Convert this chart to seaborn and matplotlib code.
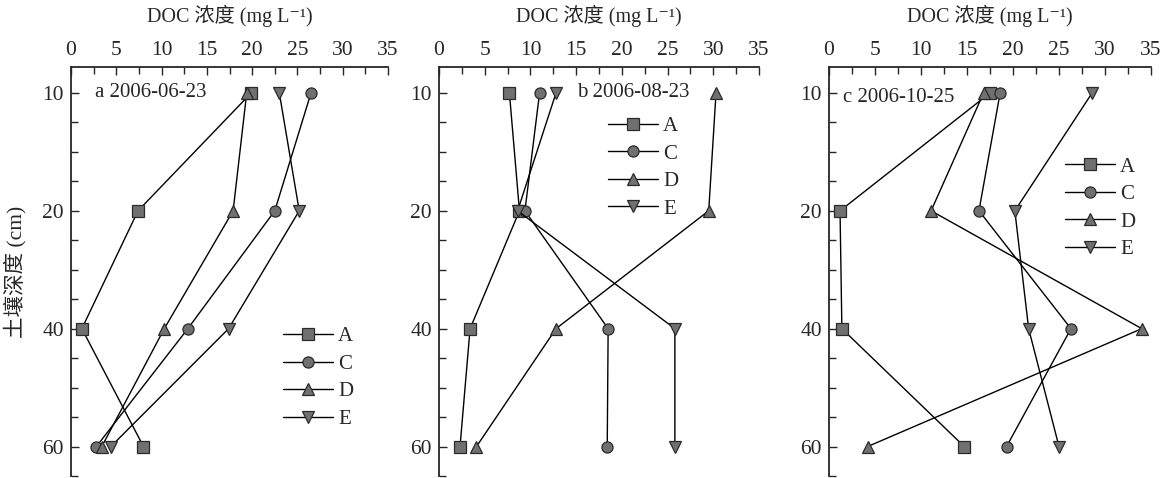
import numpy as np
import matplotlib
matplotlib.use("Agg")
import matplotlib.pyplot as plt
import seaborn as sns
from matplotlib.ticker import MultipleLocator, FixedLocator

# depth levels (cm), drawn at equal spacing
depths = [10, 20, 40, 60]
sites = ["A", "C", "D", "E"]
dates = ["a 2006-06-23", "b 2006-08-23", "c 2006-10-25"]

# DOC concentration (mg L-1), per panel, per site, at depths 10/20/40/60
doc_a = {"A": [19.9, 7.4, 1.2, 8.0],
         "C": [26.5, 22.5, 12.9, 2.8],
         "D": [19.4, 17.9, 10.3, 3.4],
         "E": [23.0, 25.2, 17.4, 4.4]}
doc_b = {"A": [7.7, 8.8, 3.4, 2.3],
         "C": [11.0, 9.4, 18.5, 18.4],
         "D": [30.3, 29.5, 12.8, 4.1],
         "E": [12.8, 8.6, 25.8, 25.8]}
doc_c = {"A": [17.5, 1.2, 1.4, 14.7],
         "C": [18.6, 16.3, 26.3, 19.3],
         "D": [16.8, 11.1, 34.0, 4.2],
         "E": [28.6, 20.2, 21.7, 25.0]}

markers = {"A": "s", "C": "o", "D": "^", "E": "v"}

sns.set_style("ticks")
fonts = ["Liberation Serif", "Noto Sans CJK SC", "DejaVu Serif"]
plt.rcParams["font.family"] = fonts
plt.rcParams["font.size"] = 15

fig = plt.figure(figsize=(11.67, 4.78), dpi=100)
W, H = 1167, 478
boxes = [(71, 388), (439, 759), (829, 1151)]
top_px, bot_px = 67, 476

legend_pos = [(0.669, 0.24), (0.528, 0.754), (0.733, 0.655)]
text_pos = [(0.076, 0.0), (0.43, 0.0), (0.044, 0.04)]

pos = np.arange(len(depths))
for i, (data, (x0, x1)) in enumerate(zip([doc_a, doc_b, doc_c], boxes)):
    ax = fig.add_axes([x0 / W, 1 - bot_px / H, (x1 - x0) / W, (bot_px - top_px) / H])
    for s in sites:
        sns.lineplot(x=data[s], y=pos, orient="y", sort=False, ax=ax,
                     color="black", lw=1.0, marker=markers[s], markersize=8,
                     markerfacecolor="#707070", markeredgecolor="#2a2a2a",
                     markeredgewidth=0.9, label=s)
    ax.set_xlim(0, 35)
    ax.set_ylim(3.25, -0.22)
    ax.xaxis.tick_top()
    ax.xaxis.set_label_position("top")
    ax.xaxis.set_major_locator(MultipleLocator(5))
    ax.xaxis.set_minor_locator(MultipleLocator(2.5))
    ax.yaxis.set_major_locator(FixedLocator(pos))
    ax.yaxis.set_minor_locator(MultipleLocator(0.25))
    ax.set_yticklabels([str(d) for d in depths])
    ax.tick_params(which="both", direction="in", width=1.0, labelsize=15.5)
    ax.tick_params(which="major", length=6, pad=5)
    ax.tick_params(which="minor", length=5)
    for sp in ["right", "bottom"]:
        ax.spines[sp].set_visible(False)
    for sp in ["left", "top"]:
        ax.spines[sp].set_linewidth(1.3)
    ax.set_xlabel("DOC 浓度 (mg L⁻¹)", fontsize=14.5, labelpad=14)
    if i == 0:
        ax.set_ylabel("土壤深度 (cm)", fontsize=15.5)
        ax.yaxis.set_label_coords(-0.14, 0.5)
    else:
        ax.set_ylabel("")
    ax.text(text_pos[i][0], text_pos[i][1], dates[i], transform=ax.get_yaxis_transform(),
            va="center", ha="left", fontsize=15)
    ax.legend(loc="center left", bbox_to_anchor=legend_pos[i], frameon=False,
              borderpad=0, borderaxespad=0, handlelength=2.4, handletextpad=0.25,
              labelspacing=0.38, fontsize=15)

fig.savefig("out.png", dpi=100)
